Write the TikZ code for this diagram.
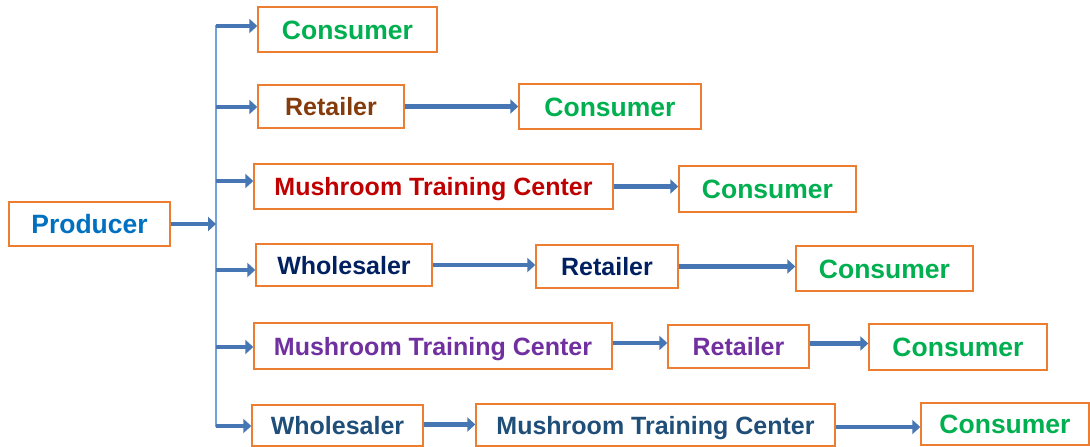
\documentclass[tikz,border=0pt]{standalone}
\usepackage{fontspec}
\setmainfont{Liberation Sans}
\usetikzlibrary{arrows.meta}
\definecolor{boxorange}{HTML}{ED7D31}
\definecolor{arrowblue}{HTML}{4677B4}
\definecolor{buslight}{HTML}{6FA3DC}
\definecolor{cgreen}{HTML}{00B050}
\definecolor{cbrown}{HTML}{843C0C}
\definecolor{cred}{HTML}{C00000}
\definecolor{cnavy}{HTML}{002060}
\definecolor{cpurple}{HTML}{7030A0}
\definecolor{cblue}{HTML}{0070C0}
\definecolor{cdblue}{HTML}{1F4E79}
\tikzset{
  box/.style={draw=boxorange, line width=1.4pt, fill=white, inner sep=0pt,
    font=\fontsize{25}{28}\selectfont\bfseries, text height=18pt, text depth=0pt},
  bigtext/.style={font=\fontsize{26.5}{30}\selectfont\bfseries, text height=19pt},
  arr/.style={draw=arrowblue, line width=4.5pt, -{Triangle[length=8pt,width=14pt]}},
  bus/.style={draw=buslight, line width=1.6pt},
}
\begin{document}
\begin{tikzpicture}[x=1pt,y=-1pt]
\useasboundingbox (0,0) rectangle (1090,447);
% boxes
\node[box,bigtext,text=cblue,minimum width=161pt,minimum height=44pt] (p) at (89.5,224) {Producer};
\node[box,bigtext,text=cgreen,minimum width=179pt,minimum height=45pt] (c1) at (347.5,29.5) {Consumer};
\node[box,text=cbrown,minimum width=146pt,minimum height=43pt] (r2) at (331,106.5) {Retailer};
\node[box,bigtext,text=cgreen,minimum width=182pt,minimum height=45pt] (c2) at (610,106.5) {Consumer};
\node[box,text=cred,minimum width=359pt,minimum height=45pt] (m3) at (433.5,186.5) {Mushroom Training Center};
\node[box,bigtext,text=cgreen,minimum width=177pt,minimum height=46pt] (c3) at (767.5,189) {Consumer};
\node[box,text=cnavy,minimum width=176pt,minimum height=42pt] (w4) at (344,265) {Wholesaler};
\node[box,text=cnavy,minimum width=142pt,minimum height=43pt] (r4) at (607,266.5) {Retailer};
\node[box,bigtext,text=cgreen,minimum width=177pt,minimum height=45pt] (c4) at (884.5,268.5) {Consumer};
\node[box,text=cpurple,minimum width=358pt,minimum height=46pt] (m5) at (433,346) {Mushroom Training Center};
\node[box,text=cpurple,minimum width=141pt,minimum height=43pt] (r5) at (738.5,346.5) {Retailer};
\node[box,bigtext,text=cgreen,minimum width=178pt,minimum height=46pt] (c5) at (958,347) {Consumer};
\node[box,text=cdblue,minimum width=171pt,minimum height=41pt] (w6) at (337.5,425.5) {Wholesaler};
\node[box,text=cdblue,minimum width=359pt,minimum height=42pt] (m6) at (655.5,425) {Mushroom Training Center};
\node[box,bigtext,text=cgreen,minimum width=168pt,minimum height=42pt] (c6) at (1005,424) {Consumer};
% bus coordinates
\coordinate (b1) at (216,26);
\coordinate (b2) at (216,107);
\coordinate (b3) at (216,181);
\coordinate (bp) at (216,224);
\coordinate (b4) at (216,270);
\coordinate (b5) at (216,347);
\coordinate (b6) at (216,426);
\draw[bus] ([yshift=1pt]b1) -- ([yshift=-1pt]b6);
% branch arrows
\draw[arr] (p.east) -- (bp);
\draw[arr] (b1) -- (b1 -| c1.west);
\draw[arr] (b2) -- (b2 -| r2.west);
\draw[arr] (b3) -- (b3 -| m3.west);
\draw[arr] (b4) -- (b4 -| w4.west);
\draw[arr] (b5) -- (b5 -| m5.west);
\draw[arr] (b6) -- (b6 -| w6.west);
% chain arrows
\draw[arr] (r2.east) -- (r2.east -| c2.west);
\draw[arr] (m3.east) -- (m3.east -| c3.west);
\draw[arr] (w4.east) -- (w4.east -| r4.west);
\draw[arr] (r4.east) -- (r4.east -| c4.west);
\draw[arr] ([yshift=3pt]m5.east) -- ([yshift=3pt]m5.east -| r5.west);
\draw[arr] ([yshift=3pt]r5.east) -- ([yshift=3pt]r5.east -| c5.west);
\draw[arr] ([yshift=1pt]w6.east) -- ([yshift=1pt]w6.east -| m6.west);
\draw[arr] ([yshift=-2pt]m6.east) -- ([yshift=-2pt]m6.east -| c6.west);
\end{tikzpicture}
\end{document}
